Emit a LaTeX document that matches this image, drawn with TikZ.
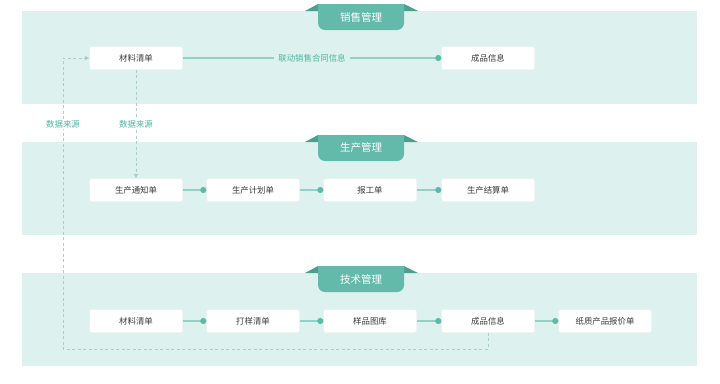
\documentclass[tikz,border=0pt]{standalone}
\usepackage{fontspec}
\setmainfont{Noto Sans CJK SC}
\usetikzlibrary{arrows.meta,positioning}
\definecolor{panelbg}{HTML}{DDF1EE}
\definecolor{tabc}{HTML}{63BAAA}
\definecolor{tabdark}{HTML}{4C9F8F}
\definecolor{linec}{HTML}{8FD2C6}
\definecolor{dotc}{HTML}{5DB9A8}
\definecolor{labelc}{HTML}{4FB4A0}
\definecolor{dashc}{HTML}{A9CFC9}
\definecolor{textc}{HTML}{3A3A3A}

\begin{document}
\begin{tikzpicture}[x=1pt, y=-1pt,
      panel/.style={fill=panelbg},
      tabbody/.style={fill=tabc},
      tabear/.style={fill=tabdark},
      tabtitle/.style={font=\fontsize{10.5}{12}\selectfont, text=white},
      box/.style={fill=white, draw=black!7, rounded corners=1.5pt,
        minimum width=93pt, minimum height=23pt, inner sep=0pt,
        font=\fontsize{8.4}{10}\selectfont, text=textc},
      link/.style={draw=linec, line width=1.3pt,
        -{Circle[length=6pt, fill=dotc, color=dotc]}},
      datalink/.style={-{Triangle[length=4.5pt, width=4pt]}, draw=dashc,
        dash pattern=on 3pt off 2.5pt, line width=0.7pt},
      src/.style={font=\fontsize{8.4}{10}\selectfont, text=labelc, inner sep=1.5pt},
    ]
    \useasboundingbox (0,0) rectangle (720,383);

    % Panels with title tabs
    \foreach \t/\title/\nm in {11/销售管理/xs, 142/生产管理/sc, 273/技术管理/js} {
      \fill[panel] (22,\t) rectangle (697,\t+93);
      \fill[tabear] (305,\t) -- (318,\t-7) -- (318,\t) -- cycle;
      \fill[tabear] (418,\t) -- (404,\t-7) -- (404,\t) -- cycle;
      \fill[tabbody] (318,\t-7) [rounded corners=7pt] -- (318,\t+19)
        -- (404,\t+19) [sharp corners] -- (404,\t-7) -- cycle;
      \node[tabtitle] (tab\nm) at (361,\t+6) {\title};
    }

    % Sales row
    \node[box] (s1) at (136,58) {材料清单};
    \node[box] (s2) at (488,58) {成品信息};
    \draw[link] (s1) -- node[fill=panelbg, text=labelc, inner sep=4pt,
      font=\fontsize{8.4}{10}\selectfont] (slbl) {联动销售合同信息} (s2);

    % Production row
    \foreach \i/\x/\name in {1/136/生产通知单, 2/253/生产计划单, 3/370/报工单, 4/488/生产结算单}
      \node[box] (p\i) at (\x,190) {\name};
    \foreach \a/\b in {1/2, 2/3, 3/4}
      \draw[link] (p\a) -- (p\b);

    % Technology row
    \foreach \i/\x/\name in {1/136/材料清单, 2/253/打样清单, 3/370/样品图库, 4/488/成品信息, 5/605/纸质产品报价单}
      \node[box] (t\i) at (\x,321) {\name};
    \foreach \a/\b in {1/2, 2/3, 3/4, 4/5}
      \draw[link] (t\a) -- (t\b);

    % Data sources
    \coordinate (loop) at (63,349);
    \draw[datalink] (t4.south) |- (loop) |- (s1.west);
    \node[src, fill=white] (src1) at (63,124) {数据来源};
    \draw[datalink] (s1.south) -- (p1.north);
    \node[src, fill=white] (src2) at (136,124) {数据来源};
  \end{tikzpicture}
\end{document}
